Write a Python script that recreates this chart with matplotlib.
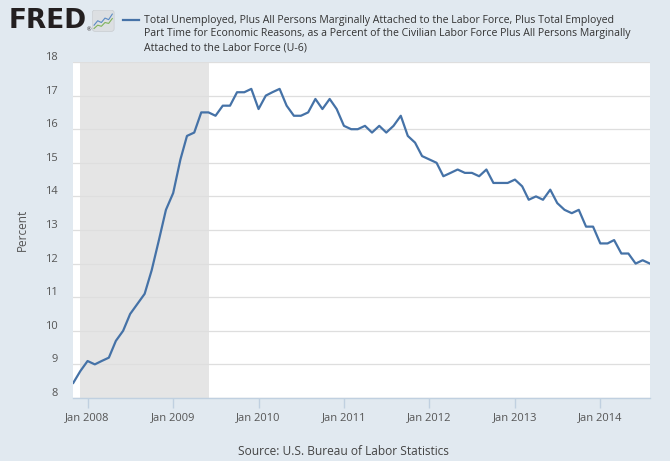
import matplotlib.pyplot as plt
import matplotlib.dates as mdates
import matplotlib.transforms as mtransforms
import pandas as pd
from matplotlib.patches import FancyBboxPatch

# U-6 rate, monthly, Nov 2007 - Aug 2014
start_month = "2007-11-01"
u6_rate = [
    8.45, 8.8,
    9.1, 9.0, 9.1, 9.2, 9.7, 10.0, 10.5, 10.8, 11.1, 11.8, 12.7, 13.6,
    14.1, 15.1, 15.8, 15.9, 16.5, 16.5, 16.4, 16.7, 16.7, 17.1, 17.1, 17.2,
    16.6, 17.0, 17.1, 17.2, 16.7, 16.4, 16.4, 16.5, 16.9, 16.6, 16.9, 16.6,
    16.1, 16.0, 16.0, 16.1, 15.9, 16.1, 15.9, 16.1, 16.4, 15.8, 15.6, 15.2,
    15.1, 15.0, 14.6, 14.7, 14.8, 14.7, 14.7, 14.6, 14.8, 14.4, 14.4, 14.4,
    14.5, 14.3, 13.9, 14.0, 13.9, 14.2, 13.8, 13.6, 13.5, 13.6, 13.1, 13.1,
    12.6, 12.6, 12.7, 12.3, 12.3, 12.0, 12.1, 12.0,
]
recession_start = "2007-12-01"
recession_end = "2009-06-01"
y_ticks = [8, 9, 10, 11, 12, 13, 14, 15, 16, 17, 18]
x_tick_years = [2008, 2009, 2010, 2011, 2012, 2013, 2014]

title_text = ("Total Unemployed, Plus All Persons Marginally Attached to the Labor Force, Plus Total Employed\n"
              "Part Time for Economic Reasons, as a Percent of the Civilian Labor Force Plus All Persons Marginally\n"
              "Attached to the Labor Force (U-6)")
source_text = "Source: U.S. Bureau of Labor Statistics"

# little logo sparklines
logo_blue = [0.3, 0.5, 0.42, 0.62, 0.55, 0.8]
logo_green = [0.15, 0.3, 0.25, 0.42, 0.38, 0.6]

dates = pd.date_range(start_month, periods=len(u6_rate), freq="MS")

plt.rcParams['font.family'] = ['Open Sans', 'DejaVu Sans']
bg = '#e1e9f0'
line_color = '#4572a7'

fig = plt.figure(figsize=(6.7, 4.61), dpi=100, facecolor=bg)
ax = fig.add_axes([0.1094, 0.1367, 0.8606, 0.7288])
ax.set_facecolor('white')

ax.axvspan(pd.Timestamp(recession_start), pd.Timestamp(recession_end), color='#e5e5e5', lw=0, zorder=1)
ax.plot(dates, u6_rate, color=line_color, lw=1.6, zorder=3)

ax.set_xlim(dates[0], dates[-1])
ax.set_ylim(8, 18)
ax.set_yticks(y_ticks)
ax.grid(axis='y', color='#dedede', lw=0.9, zorder=2)
ax.set_xticks([pd.Timestamp(f"{y}-01-01") for y in x_tick_years])
ax.xaxis.set_major_formatter(mdates.DateFormatter('Jan %Y'))

for s in ['top', 'right', 'left']:
    ax.spines[s].set_visible(False)
ax.spines['bottom'].set_color('#c0d0e0')
ax.spines['bottom'].set_linewidth(1)
ax.tick_params(axis='x', colors='#c0d0e0', length=7, width=1, labelcolor='#555555', labelsize=8, pad=3)
ax.tick_params(axis='y', length=0, labelcolor='#555555', labelsize=8, pad=11)
ax.set_ylabel('Percent', color='#555555', fontsize=8.5, labelpad=12)

# y labels sit a little above their gridlines
shift = mtransforms.ScaledTranslation(0, 6 / 100, fig.dpi_scale_trans)
for lab in ax.get_yticklabels():
    lab.set_transform(lab.get_transform() + shift)

# header
fig.text(0.013, 0.954, 'FRED', fontsize=19, fontweight='heavy', family='DejaVu Sans',
         color='#231f20', va='center', ha='left')
fig.text(0.129, 0.935, '®', fontsize=4, color='#231f20', va='center', ha='left')
logo = fig.add_axes([0.137, 0.931, 0.034, 0.048])
logo.set_xlim(0, 1)
logo.set_ylim(0, 1)
logo.axis('off')
logo.add_patch(FancyBboxPatch((0.02, 0.02), 0.96, 0.96, boxstyle='round,pad=0,rounding_size=0.12',
                              fc='#dcdfe2', ec='#c8ccd0', lw=0.5, transform=logo.transAxes))
xs = [0.1 + i * 0.16 for i in range(len(logo_green))]
logo.plot(xs, logo_blue, color='#5b8bc4', lw=0.8)
logo.plot(xs, logo_green, color='#7fb35a', lw=0.8)

fig.add_artist(plt.Line2D([0.184, 0.207], [0.957, 0.957], color=line_color, lw=1.6, transform=fig.transFigure))
fig.text(0.215, 0.968, title_text, fontsize=7.6, color='#333333', va='top', ha='left', linespacing=1.33)

fig.text(0.512, 0.007, source_text, fontsize=8.6, color='#444444', ha='center', va='bottom')

fig.savefig('out.png', dpi=100, facecolor=bg)
